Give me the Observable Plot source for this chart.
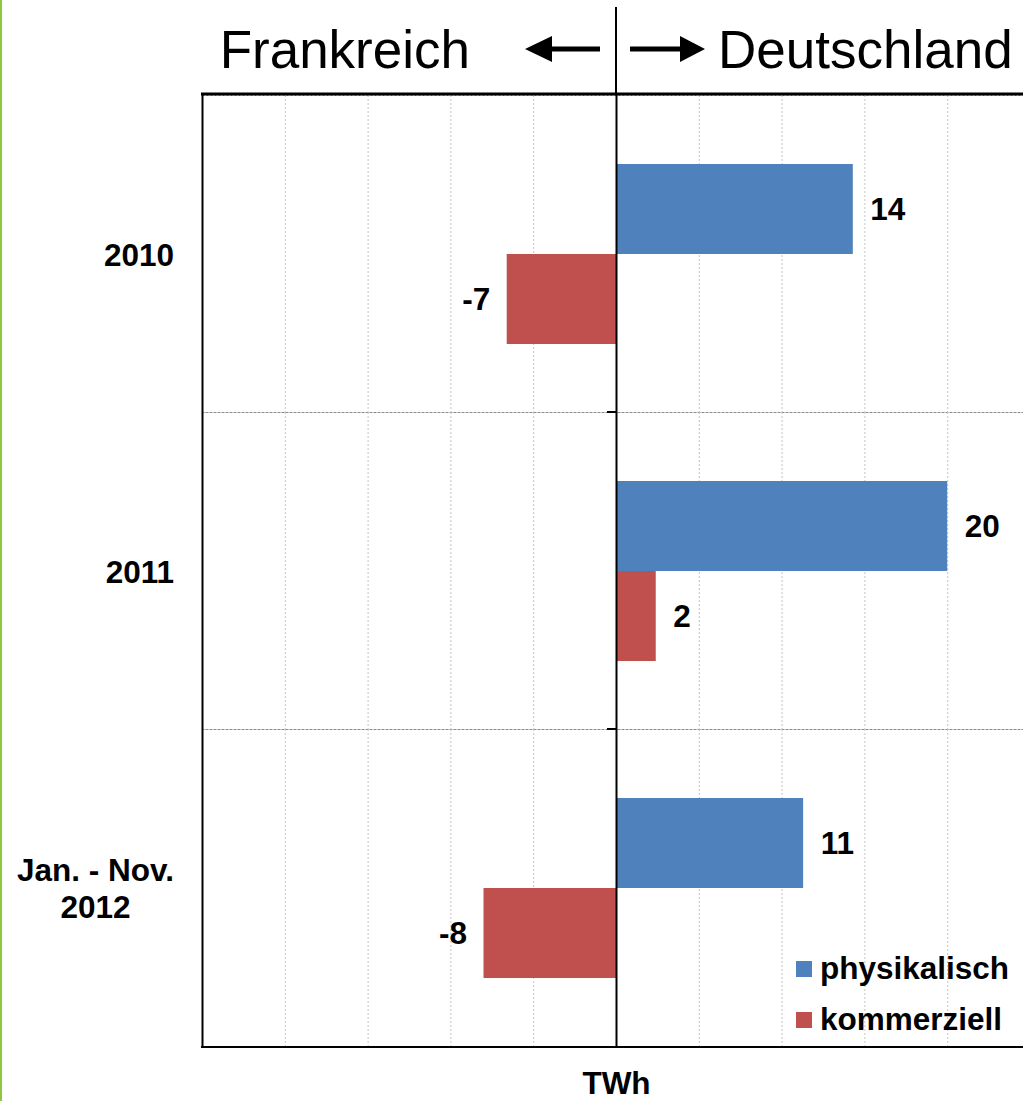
<!DOCTYPE html>
<html><head><meta charset="utf-8">
<script src="https://cdn.jsdelivr.net/npm/d3@7"></script>
<script src="https://cdn.jsdelivr.net/npm/@observablehq/plot@0.6"></script>
<style>
html,body{margin:0;padding:0;background:#fff;overflow:hidden}
#wrap{position:relative;width:1023px;height:1101px;font-family:Arial,"Liberation Sans",Helvetica,sans-serif}
#wrap svg{display:block}
#greenbar{position:absolute;left:0;top:0;width:2px;height:1101px;background:#8dc63f}
#legend{position:absolute;left:796px;top:943px;font-weight:bold;font-size:31.5px;color:#000;line-height:1}
.row{display:flex;align-items:center;height:51px}
.sw{width:16px;height:16px;margin-right:8px;flex:none}
</style></head><body><div id="wrap"><div id="greenbar"></div></div>
<script>
const years = ["2010", "2011", "Jan. - Nov. 2012"];
const yearLabels = ["2010", "2011", "Jan. - Nov.\n2012"];
const seriesNames = ["physikalisch", "kommerziell"];
const physikalisch = [14.3, 20.0, 11.3];
const kommerziell = [-6.6, 2.4, -8.0];
const seriesColors = ["#4f81bd", "#c0504d"];
const gridTicks = [-20, -15, -10, -5, 5, 10, 15, 20];
const xDomain = [-25, 25];
const headerLeft = "Frankreich";
const headerRight = "Deutschland";
const unitLabel = "TWh";

const rows = years.flatMap((year, i) => [
  {year, series: seriesNames[0], value: physikalisch[i]},
  {year, series: seriesNames[1], value: kommerziell[i]}
]);
const fmt = v => String(Math.round(v));
const FONT = "Arial, 'Liberation Sans', Helvetica, sans-serif";
const FS = 31.5;

const plot = Plot.plot({
  width: 1023, height: 1101,
  marginTop: 94, marginBottom: 54, marginLeft: 202, marginRight: -7,
  style: {fontFamily: FONT, overflow: "visible", background: "white", fontWeight: "bold", fontSize: FS + "px", color: "black"},
  x: {domain: xDomain, axis: null},
  y: {domain: seriesNames, paddingInner: 0, paddingOuter: 0.75, axis: null},
  fy: {domain: years, padding: 0, label: null, axis: null},
  color: {domain: seriesNames, range: seriesColors},
  marks: [
    Plot.frame({stroke: "#8a8a8a", strokeDasharray: "2,2", strokeWidth: 1}),
    Plot.ruleX(gridTicks, {stroke: "#c4c4c4", strokeDasharray: "2,2", strokeWidth: 1}),
    Plot.barX(rows, {x: "value", y: "series", fy: "year", fill: "series"}),
    Plot.ruleX([0], {stroke: "black", strokeWidth: 2}),
    Plot.ruleX([xDomain[0]], {stroke: "black", strokeWidth: 2}),
    Plot.text(rows.filter(d => d.value >= 0), {x: "value", y: "series", fy: "year", text: d => fmt(d.value), textAnchor: "start", dx: 17, fontSize: FS, fontWeight: "bold", fill: "black"}),
    Plot.text(rows.filter(d => d.value < 0), {x: "value", y: "series", fy: "year", text: d => fmt(d.value), textAnchor: "end", dx: -17, fontSize: FS, fontWeight: "bold", fill: "black"}),
    Plot.axisFy({anchor: "left", tickSize: 0, tickPadding: 28, label: null, textAnchor: "middle", lineHeight: 1.18,
      tickFormat: d => yearLabels[years.indexOf(d)], fontSize: FS, fontWeight: "bold", fill: "black"}),
    Plot.axisX({ticks: [], tickSize: 0, label: unitLabel, labelAnchor: "center", labelArrow: "none", labelOffset: 47, fontSize: FS, fontWeight: "bold", fill: "black"})
  ]
});

const wrap = document.getElementById("wrap");
wrap.insertBefore(plot, wrap.firstChild);

// decorations derived from the scales
const ns = "http://www.w3.org/2000/svg";
const xs = plot.scale("x"), fys = plot.scale("fy");
const x0 = xs.apply(0), xl = xs.apply(xDomain[0]), xr = xs.apply(xDomain[1]);
const yTop = fys.range[0], yBottom = fys.range[1];
function el(tag, attrs, parent) {
  const e = document.createElementNS(ns, tag);
  for (const k in attrs) e.setAttribute(k, attrs[k]);
  (parent || plot).appendChild(e);
  return e;
}
const g = el("g", {});
// outer frame top & bottom
el("line", {x1: xl - 1, x2: xr, y1: yTop, y2: yTop, stroke: "black", "stroke-width": 3}, g);
el("line", {x1: xl - 1, x2: xr, y1: yBottom, y2: yBottom, stroke: "black", "stroke-width": 2}, g);
// zero line extended into header
el("line", {x1: x0, x2: x0, y1: 7, y2: yTop, stroke: "black", "stroke-width": 2}, g);
// small ticks on the zero axis at category boundaries
years.slice(1).forEach(y => {
  const yy = fys.apply(y);
  el("line", {x1: x0 - 9, x2: x0, y1: yy, y2: yy, stroke: "black", "stroke-width": 2}, g);
});
// header arrows
const ay = 49;
el("path", {d: `M${x0-16},${ay-2.5}H${x0-64}V${ay-13}L${x0-91},${ay}L${x0-64},${ay+13}V${ay+2.5}H${x0-16}Z`, fill: "black"}, g);
el("path", {d: `M${x0+14},${ay-2.5}H${x0+64}V${ay-13}L${x0+89},${ay}L${x0+64},${ay+13}V${ay+2.5}H${x0+14}Z`, fill: "black"}, g);
// header titles
const t1 = el("text", {x: x0 - 146, y: 68, "text-anchor": "end", "font-size": 53, "font-weight": "normal", fill: "black", "font-family": FONT}, g);
t1.textContent = headerLeft;
const t2 = el("text", {x: x0 + 102, y: 68, "text-anchor": "start", "font-size": 53, "font-weight": "normal", fill: "black", "font-family": FONT}, g);
t2.textContent = headerRight;

// right-align multi-line category labels as blocks (lines centered within)
const svgRect = plot.getBoundingClientRect();
const target = xl - 28;
plot.querySelectorAll('g[aria-label="fy-axis tick label"] text').forEach(t => {
  const r = t.getBoundingClientRect();
  const shift = target - (r.right - svgRect.left);
  const tr = t.getAttribute("transform") || "";
  t.setAttribute("transform", `translate(${shift},0) ${tr}`);
});

// legend
const legend = document.createElement("div");
legend.id = "legend";
seriesNames.forEach((s, i) => {
  const row = document.createElement("div");
  row.className = "row";
  const sw = document.createElement("span");
  sw.className = "sw";
  sw.style.background = seriesColors[i];
  const lab = document.createElement("span");
  lab.textContent = s;
  row.appendChild(sw); row.appendChild(lab);
  legend.appendChild(row);
});
wrap.appendChild(legend);
</script></body></html>
